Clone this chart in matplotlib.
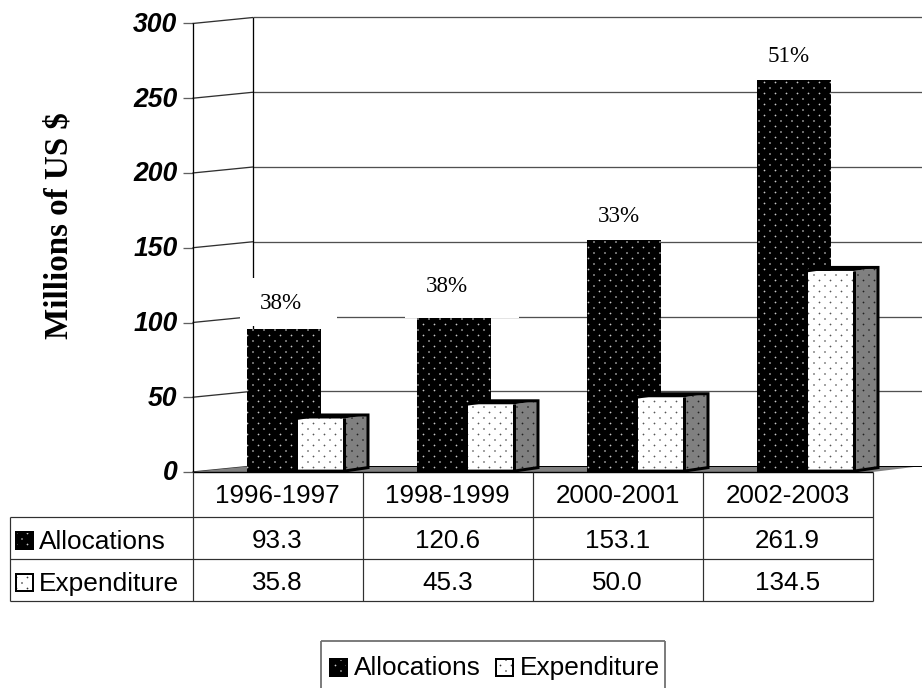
import matplotlib
matplotlib.use('Agg')
import matplotlib.pyplot as plt
import matplotlib.hatch as mhatch
import numpy as np
from matplotlib.patches import Polygon, Rectangle
from matplotlib.path import Path

# table values, as printed
periods = ['1996-1997', '1998-1999', '2000-2001', '2002-2003']
allocations = [93.3, 120.6, 153.1, 261.9]
expenditure = [35.8, 45.3, 50.0, 134.5]
# black bar tops as drawn, the second one sits lower than its table value
alloc_heights = [95.6, 103.0, 155.2, 262.2]
pct_labels = ['38%', '38%', '33%', '51%']
pct_heights = [112.5, 124, 171.2, 278]
pct_shift = [3.5, -1, 1.5, 1.5]
yticks = [0, 50, 100, 150, 200, 250, 300]

W, H, DPI = 922, 688, 66
PX = 72 / DPI


class PrintDots(mhatch.HatchPatternBase):
    # print-style screen: dots every tile step, rows at half a step, staggered
    radius = 0.011

    def __init__(self, hatch, density):
        self.n = hatch.count('.') * density
        circle = Path.unit_circle()
        self.circle = circle
        pts = sum(self.n + 1 if r % 2 == 0 else self.n for r in range(2 * self.n + 1))
        self.num_vertices = pts * len(circle.vertices) if self.n else 0

    def set_vertices_and_codes(self, vertices, codes):
        k = len(self.circle.vertices)
        cursor = 0
        for r in range(2 * self.n + 1):
            if r % 2 == 0:
                cols = np.linspace(0, 1, self.n + 1)
            else:
                cols = np.linspace(0.5 / self.n, 1 - 0.5 / self.n, self.n)
            for c in cols:
                vertices[cursor:cursor + k] = self.circle.vertices * self.radius + [c, r / (2 * self.n)]
                codes[cursor:cursor + k] = self.circle.codes
                cursor += k


mhatch._hatch_types[mhatch._hatch_types.index(mhatch.SmallFilledCircles)] = PrintDots

plt.rcParams['hatch.linewidth'] = 0.2
fig = plt.figure(figsize=(W / DPI, H / DPI), dpi=DPI)
L, R, B, T = 192.5, 872.5, 472, 23.5
ax = fig.add_axes([L / W, 1 - B / H, (R - L) / W, (B - T) / H])
ax.set_xlim(0, 4)
ax.set_ylim(0, 300)
ax.axis('off')

# px offsets turned into data units
ux = 4 / (R - L)
uy = 300 / (B - T)
wall_dx = 60.5 * ux
wall_dy = 6 * uy
bar_dx = 24 * ux
bar_dy = 3.5 * uy
bar_w = 49.5 * ux
exp_w = 47.5 * ux
bar_start = 54.5 * ux
right_end = 4 + 49.5 * ux
GRID = '#505050'


def poly(pts, **kw):
    kw.setdefault('clip_on', False)
    p = Polygon(pts, closed=True, **kw)
    ax.add_patch(p)
    return p


def line(xs, ys, color=GRID, lw=1.3, z=1):
    ax.plot(xs, ys, color=color, lw=lw * PX, clip_on=False, zorder=z, solid_capstyle='butt')


def alloc_bar(x, top, z):
    # front and side merge in solid black
    poly([(x, 0), (x + bar_w + bar_dx, 0), (x + bar_w + bar_dx, top), (x, top)],
         fc='black', ec='#c8c8c8', lw=0, hatch='.', zorder=z)


def exp_bar(x, h, z):
    base = 0.6
    poly([(x, base), (x + exp_w, base), (x + exp_w, h), (x, h)],
         fc='white', ec='#555555', lw=0, hatch='.', zorder=z)
    poly([(x + exp_w, base), (x + exp_w + bar_dx, base + bar_dy),
          (x + exp_w + bar_dx, h + bar_dy), (x + exp_w, h)],
         fc='#808080', ec='#202020', lw=0, hatch='.', zorder=z)
    poly([(x, h), (x + exp_w, h), (x + exp_w + bar_dx, h + bar_dy), (x + bar_dx, h + bar_dy)],
         fc='black', ec='black', lw=0, zorder=z)
    outline = [(x, base), (x + exp_w, base), (x + exp_w + bar_dx, base + bar_dy),
               (x + exp_w + bar_dx, h + bar_dy), (x + bar_dx, h + bar_dy), (x, h)]
    poly(outline, fc='none', ec='black', lw=3 * PX, zorder=z + 0.1, joinstyle='miter')
    line([x + exp_w, x + exp_w], [base, h], color='black', lw=3, z=z + 0.1)


# walls and gridlines
for v in yticks:
    line([-9.5 * ux, 0], [v, v], color='#606060')
    line([0, wall_dx], [v, v + wall_dy], color='#303030')
    if v > 0:
        line([wall_dx, right_end], [v + wall_dy, v + wall_dy])
line([wall_dx, wall_dx], [wall_dy, 300 + wall_dy], color='black')

# floor
poly([(0, 0), (wall_dx, wall_dy), (right_end, wall_dy), (4, 0)], fc='#808080', ec='none', zorder=2)
line([wall_dx, right_end], [wall_dy, wall_dy], color='black', lw=1, z=2)

# white patches behind the first two percent labels
for x0, x1, y0, y1 in [(240, 337, 278, 326), (405, 519, 268, 318)]:
    ax.add_patch(Rectangle(((x0 - L) * ux, (B - y1) * uy), (x1 - x0) * ux, (y1 - y0) * uy,
                           fc='white', ec='none', zorder=3, clip_on=False))

# y axis
line([0, 0], [300, 0], color='black', z=6)
line([0, 4], [0, 0], color='black', lw=1.4, z=6)

for i in range(len(periods)):
    x0 = i + bar_start
    alloc_bar(x0, alloc_heights[i], 4)
    exp_bar(x0 + bar_w, expenditure[i], 5)
    ax.text(i + 0.5 + pct_shift[i] * ux, pct_heights[i], pct_labels[i], family='Liberation Serif',
            fontsize=23 * PX, ha='center', va='center', zorder=7, color='black')

for v in yticks:
    ax.text(-15 * ux, v - 1, str(v), family='Liberation Sans', fontsize=26.5 * PX, fontweight='bold',
            fontstyle='italic', ha='right', va='center', color='black')

fig.text(59 / W, 1 - 226 / H, 'Millions of US $', family='Liberation Serif', fontsize=33 * PX,
         fontweight='bold', rotation=90, ha='center', va='center')

# data table under the plot
row_lines = [517, 559, 601]
col_lines = [192.5, 362.5, 532.5, 702.5, 872.5]
rows = [('Allocations', allocations), ('Expenditure', expenditure)]


def fig_line(xs, ys, color='#303030', lw=1.2):
    fig.add_artist(plt.Line2D([x / W for x in xs], [1 - y / H for y in ys], color=color,
                              lw=lw * PX, solid_capstyle='butt'))


def swatch(x, y, kind):
    s = 17
    fc = 'black' if kind == 0 else 'white'
    ec = '#c8c8c8' if kind == 0 else '#333333'
    fig.add_artist(Rectangle((x / W, 1 - (y + s) / H), s / W, s / H, transform=fig.transFigure,
                             fc=fc, ec=ec, lw=0, hatch='.'))
    fig.add_artist(Rectangle((x / W, 1 - (y + s) / H), s / W, s / H, transform=fig.transFigure,
                             fc='none', ec='black', lw=2 * PX))


for y in row_lines:
    fig_line([9.5, 872.5], [y, y])
fig_line([9.5, 9.5], [517, 601])
for x in col_lines:
    fig_line([x, x], [472, 601])

for j, period in enumerate(periods):
    cx = (col_lines[j] + col_lines[j + 1]) / 2
    fig.text(cx / W, 1 - 496 / H, period, family='Liberation Sans', fontsize=26 * PX,
             ha='center', va='center')
    for r, (name, vals) in enumerate(rows):
        fig.text(cx / W, 1 - (541 + 42 * r) / H, f'{vals[j]:.1f}', family='Liberation Sans',
                 fontsize=26 * PX, ha='center', va='center')

for r, (name, vals) in enumerate(rows):
    swatch(15.5, 532 + 42 * r, r)
    fig.text(39 / W, 1 - (542 + 42 * r) / H, name, family='Liberation Sans', fontsize=26.3 * PX,
             ha='left', va='center')

# legend box, its lower edge runs off the image
fig_line([321, 665], [641, 641], color='#707070', lw=1.8)
fig_line([321, 321], [641, 688], color='#707070', lw=1.8)
fig_line([665, 665], [641, 688], color='#707070', lw=1.8)
swatch(329.5, 659, 0)
fig.text(354 / W, 1 - 668 / H, 'Allocations', family='Liberation Sans', fontsize=26.3 * PX,
         ha='left', va='center')
swatch(495.5, 659, 1)
fig.text(520 / W, 1 - 668 / H, 'Expenditure', family='Liberation Sans', fontsize=26.3 * PX,
         ha='left', va='center')

fig.savefig('out.png', dpi=DPI)
